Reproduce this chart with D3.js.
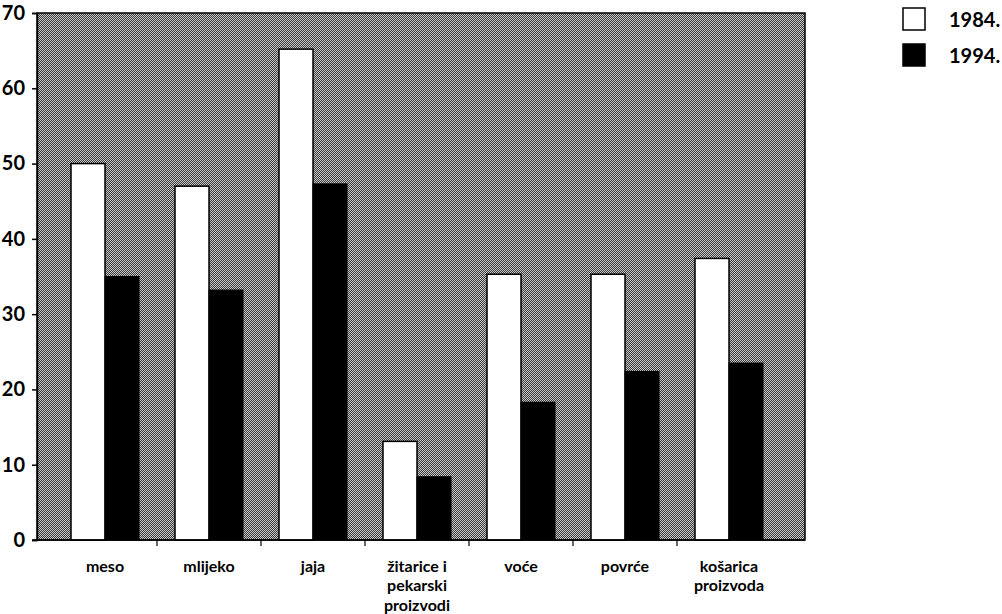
<!DOCTYPE html>
<html><head><meta charset="utf-8">
<script src="https://cdn.jsdelivr.net/npm/d3@7/dist/d3.min.js"></script>
<style>
html,body{margin:0;padding:0;background:#fff;}
svg text{font-family:Lato,"Open Sans",sans-serif;font-weight:bold;fill:#000;}
</style></head>
<body>
<svg id="c" width="1002" height="614"></svg>
<script>
const categories = [["meso"],["mlijeko"],["jaja"],["žitarice i","pekarski","proizvodi"],["voće"],["povrće"],["košarica","proizvoda"]];
const series1984 = [50, 47, 65.2, 13.1, 35.3, 35.3, 37.4];
const series1994 = [35, 33.2, 47.3, 8.4, 18.3, 22.4, 23.5];
const seriesNames = ["1984.", "1994."];
const yTicks = [0,10,20,30,40,50,60,70];

const svg = d3.select("#c");
const plot = {left:37, right:805, top:13, bottom:540};

const defs = svg.append("defs");
const pat = defs.append("pattern").attr("id","dither").attr("width",2).attr("height",2).attr("patternUnits","userSpaceOnUse");
pat.append("rect").attr("width",2).attr("height",2).attr("fill","#383838");
pat.append("rect").attr("x",0).attr("y",0).attr("width",1).attr("height",1).attr("fill","#cccccc");
pat.append("rect").attr("x",1).attr("y",1).attr("width",1).attr("height",1).attr("fill","#cccccc");

const keys = categories.map((c,i)=>i);
const x = d3.scaleBand().domain(keys).range([53, 781]).paddingInner(0).paddingOuter(0);
const y = d3.scaleLinear().domain([0,70]).range([plot.bottom, plot.top]);
const barW = 34;

// background
svg.append("rect").attr("x",plot.left).attr("y",plot.top)
  .attr("width",plot.right-plot.left).attr("height",plot.bottom-plot.top)
  .attr("fill","url(#dither)").attr("stroke","#000").attr("stroke-width",1.5);

// bars
const g = svg.append("g");
g.selectAll(".b84").data(series1984).join("rect")
  .attr("x",(d,i)=>x(i)+x.bandwidth()/2-barW)
  .attr("y",d=>y(d)).attr("width",barW).attr("height",d=>y(0)-y(d))
  .attr("fill","#fff").attr("stroke","#000").attr("stroke-width",1.5);
g.selectAll(".b94").data(series1994).join("rect")
  .attr("x",(d,i)=>x(i)+x.bandwidth()/2)
  .attr("y",d=>y(d)).attr("width",barW).attr("height",d=>y(0)-y(d))
  .attr("fill","#000").attr("stroke","#000").attr("stroke-width",1);

// y axis
const yAxis = d3.axisLeft(y).tickValues(yTicks).tickSize(5).tickPadding(7).tickFormat(d3.format("d"));
const ya = svg.append("g").attr("transform",`translate(${plot.left},0)`).call(yAxis);
ya.select(".domain").attr("stroke","#000").attr("stroke-width",1.5);
ya.selectAll(".tick line").attr("stroke","#000").attr("stroke-width",1.5);
ya.selectAll(".tick text").attr("font-size",20).attr("font-family","Lato").attr("font-weight","bold").attr("fill","#000");

// x axis baseline and ticks between categories
svg.append("line").attr("x1",32).attr("x2",plot.right).attr("y1",plot.bottom).attr("y2",plot.bottom)
  .attr("stroke","#000").attr("stroke-width",1.5);
const xa = svg.append("g");
xa.selectAll("line").data(keys.slice(1)).join("line")
  .attr("x1",d=>x(d)).attr("x2",d=>x(d)).attr("y1",plot.bottom).attr("y2",plot.bottom+6)
  .attr("stroke","#000").attr("stroke-width",1.2);

// category labels
const lbl = svg.append("g");
categories.forEach((lines,i)=>{
  const t = lbl.append("text").attr("text-anchor","middle").attr("font-size",16)
    .attr("x",x(i)+x.bandwidth()/2).attr("y",572);
  lines.forEach((s,j)=>{
    t.append("tspan").attr("x",x(i)+x.bandwidth()/2).attr("dy",j===0?0:19.3).text(s);
  });
});

// legend
const leg = svg.append("g");
seriesNames.forEach((n,i)=>{
  leg.append("rect").attr("x",903).attr("y",8+i*36).attr("width",22).attr("height",22)
    .attr("fill",i===0?"#fff":"#000").attr("stroke","#000").attr("stroke-width",1.5);
  leg.append("text").attr("x",949).attr("y",27+i*36).attr("font-size",20).text(n);
});
</script>
</body></html>
